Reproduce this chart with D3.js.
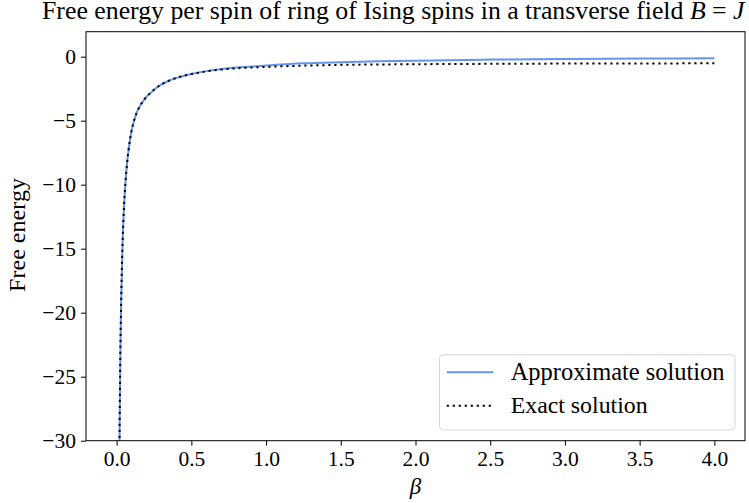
<!DOCTYPE html>
<html>
<head>
<meta charset="utf-8">
<script src="https://cdn.jsdelivr.net/npm/d3@7"></script>
<style>
  html, body { margin: 0; padding: 0; background: #fff; }
  svg { display: block; }
  text { font-family: "Liberation Serif", "DejaVu Serif", serif; fill: #000; }
</style>
</head>
<body>
<div id="chart"></div>
<script>
// Valores (beta, energía libre)
var betas = [0.015, 0.02, 0.025, 0.03, 0.04, 0.05, 0.06, 0.07, 0.08, 0.09, 0.10,
             0.12, 0.14, 0.16, 0.18, 0.20, 0.225, 0.25, 0.30, 0.35, 0.40, 0.45, 0.50, 0.60,
             0.70, 0.80, 1.00, 1.25, 1.50, 1.75, 2.00, 2.50, 3.00, 3.50, 4.00];
var exactF = [-38.7, -29.0, -23.2, -19.35, -14.5, -11.6, -9.68, -8.3, -7.26, -6.45, -5.80,
              -4.86, -4.22, -3.78, -3.43, -3.13, -2.85, -2.59, -2.17, -1.88, -1.66, -1.49, -1.36, -1.15,
              -1.01, -0.91, -0.80, -0.70, -0.64, -0.61, -0.59, -0.56, -0.54, -0.53, -0.52];
var approxF = [-38.7, -29.0, -23.2, -19.35, -14.5, -11.6, -9.68, -8.3, -7.26, -6.45, -5.80,
               -4.86, -4.22, -3.78, -3.43, -3.13, -2.85, -2.59, -2.17, -1.88, -1.66, -1.49, -1.35, -1.13,
               -0.96, -0.85, -0.69, -0.52, -0.43, -0.36, -0.31, -0.23, -0.18, -0.15, -0.13];
var xTicks = [0.0, 0.5, 1.0, 1.5, 2.0, 2.5, 3.0, 3.5, 4.0];
var yTicks = [0, -5, -10, -15, -20, -25, -30];
var legendLabels = ['Approximate solution', 'Exact solution'];

(function () {
  var W = 749, H = 503;
  var mLeft = 86, mRight = 745, mTop = 31.7, mBottom = 440.7;
  var DOTS = '2.2,3.8';

  var svg = d3.select('#chart').append('svg')
    .attr('width', W).attr('height', H);

  var x = d3.scaleLinear().domain([-0.205, 4.205]).range([mLeft, mRight]);
  var y = d3.scaleLinear().domain([-30, 1.95]).range([mBottom, mTop]);

  // ajusta el tamaño de letra a un ancho dado
  function fitWidth(sel, target) {
    var fs = parseFloat(sel.attr('font-size'));
    var w = sel.node().getComputedTextLength();
    if (w > 0) sel.attr('font-size', fs * target / w);
  }

  svg.append('clipPath').attr('id', 'clip')
    .append('rect')
    .attr('x', mLeft).attr('y', mTop)
    .attr('width', mRight - mLeft).attr('height', mBottom - mTop);

  var pts = betas.map(function (b, i) { return { b: b, e: exactF[i], a: approxF[i] }; });

  var lineA = d3.line().curve(d3.curveMonotoneX)
    .x(function (d) { return x(d.b); }).y(function (d) { return y(d.a); });
  var lineE = d3.line().curve(d3.curveMonotoneX)
    .x(function (d) { return x(d.b); }).y(function (d) { return y(d.e); });

  var plot = svg.append('g').attr('clip-path', 'url(#clip)');
  plot.append('path').datum(pts)
    .attr('d', lineA)
    .attr('fill', 'none')
    .attr('stroke', '#6495ed')
    .attr('stroke-width', 2);
  plot.append('path').datum(pts)
    .attr('d', lineE)
    .attr('fill', 'none')
    .attr('stroke', '#000')
    .attr('stroke-width', 2)
    .attr('stroke-dasharray', DOTS);

  // ejes
  var fmtX = d3.format('.1f');
  var xAxis = svg.append('g')
    .attr('transform', 'translate(0,' + mBottom + ')')
    .call(d3.axisBottom(x).tickValues(xTicks).tickSize(5).tickPadding(5)
      .tickFormat(function (d) { return fmtX(d); }));
  var yAxis = svg.append('g')
    .attr('transform', 'translate(' + mLeft + ',0)')
    .call(d3.axisLeft(y).tickValues(yTicks).tickSize(5).tickPadding(5)
      .tickFormat(function (d) { return d < 0 ? '\u2212' + Math.abs(d) : String(d); }));

  [xAxis, yAxis].forEach(function (ax) {
    ax.select('.domain').remove();
    ax.selectAll('.tick line').attr('stroke', '#000').attr('stroke-width', 1);
    ax.selectAll('.tick text')
      .attr('font-family', '"Liberation Serif", serif')
      .attr('font-size', 21.5)
      .attr('fill', '#000');
  });

  svg.append('rect')
    .attr('x', mLeft).attr('y', mTop)
    .attr('width', mRight - mLeft).attr('height', mBottom - mTop)
    .attr('fill', 'none').attr('stroke', '#000').attr('stroke-width', 1);

  // títulos
  var title = svg.append('text')
    .attr('x', 42).attr('y', 19)
    .attr('font-size', 22);
  title.append('tspan').text('Free energy per spin of ring of Ising spins in a transverse field ');
  title.append('tspan').attr('font-style', 'italic').text('B');
  title.append('tspan').text(' = ');
  title.append('tspan').attr('font-style', 'italic').text('J');
  fitWidth(title, 703);

  var ylab = svg.append('text')
    .attr('transform', 'translate(25,235) rotate(-90)')
    .attr('text-anchor', 'middle')
    .attr('font-size', 22)
    .text('Free energy');
  fitWidth(ylab, 114);

  svg.append('text')
    .attr('x', (mLeft + mRight) / 2).attr('y', 494)
    .attr('text-anchor', 'middle')
    .attr('font-size', 23)
    .attr('font-style', 'italic')
    .text('\u03b2');

  // leyenda
  var leg = svg.append('g');
  leg.append('rect')
    .attr('x', 439.5).attr('y', 354.7)
    .attr('width', 295.5).attr('height', 75.3)
    .attr('rx', 4)
    .attr('fill', '#fff').attr('fill-opacity', 0.8)
    .attr('stroke', '#d6d6d6').attr('stroke-width', 1);
  var rowsY = [372.3, 405.7];
  legendLabels.forEach(function (lab, i) {
    var ln = leg.append('line')
      .attr('x1', 446.7).attr('x2', 493.3)
      .attr('y1', rowsY[i]).attr('y2', rowsY[i])
      .attr('stroke-width', 2);
    if (i === 0) ln.attr('stroke', '#6495ed');
    else ln.attr('stroke', '#000').attr('stroke-dasharray', DOTS);
    var t = leg.append('text')
      .attr('x', 510.7).attr('y', rowsY[i] + 7.5)
      .attr('font-size', 22)
      .text(lab);
    fitWidth(t, i === 0 ? 214 : 137);
  });
})();
</script>
</body>
</html>
